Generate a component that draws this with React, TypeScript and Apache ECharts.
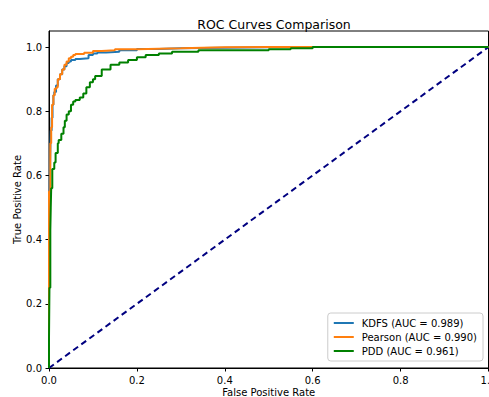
import React, { useEffect, useRef } from "react";
import * as echarts from "echarts";

const seriesNames = ["KDFS", "Pearson", "PDD"];
const aucValues = ["0.989", "0.990", "0.961"];
const seriesColors = ["#1f77b4", "#ff7f0e", "#008000"];

const kdfsRoc: number[][] = [
  [0, 0], [0, 0.35], [0.002, 0.52], [0.003, 0.6], [0.004, 0.68], [0.006, 0.74], [0.008, 0.78],
  [0.01, 0.82], [0.012, 0.85], [0.016, 0.86], [0.02, 0.88], [0.025, 0.9], [0.03, 0.915],
  [0.035, 0.93], [0.04, 0.94], [0.045, 0.95], [0.05, 0.955], [0.06, 0.96], [0.07, 0.963],
  [0.09, 0.965], [0.1, 0.975], [0.11, 0.98], [0.13, 0.983], [0.16, 0.985], [0.2, 0.99],
  [0.25, 0.994], [0.3, 0.996], [0.4, 0.998], [0.5, 0.999], [0.6, 1.0], [1, 1],
];

const pearsonRoc: number[][] = [
  [0, 0], [0, 0.45], [0.003, 0.55], [0.003, 0.62], [0.005, 0.7], [0.007, 0.75], [0.01, 0.82],
  [0.013, 0.85], [0.017, 0.87], [0.02, 0.875], [0.025, 0.9], [0.03, 0.915], [0.035, 0.93],
  [0.04, 0.945], [0.045, 0.955], [0.05, 0.965], [0.055, 0.97], [0.06, 0.975], [0.08, 0.978],
  [0.1, 0.982], [0.12, 0.988], [0.15, 0.99], [0.2, 0.993], [0.25, 0.995], [0.3, 0.996],
  [0.35, 0.998], [0.4, 0.999], [0.5, 1.0], [1, 1],
];

const pddRoc: number[][] = [
  [0, 0], [0.001, 0.09], [0.003, 0.25], [0.004, 0.43], [0.005, 0.5], [0.0075, 0.56],
  [0.0075, 0.6], [0.012, 0.62], [0.015, 0.64], [0.02, 0.67], [0.022, 0.7], [0.028, 0.71],
  [0.033, 0.73], [0.036, 0.75], [0.04, 0.77], [0.045, 0.79], [0.05, 0.8], [0.055, 0.82],
  [0.06, 0.83], [0.07, 0.835], [0.078, 0.843], [0.085, 0.855], [0.093, 0.875], [0.1, 0.89],
  [0.105, 0.9], [0.12, 0.91], [0.14, 0.93], [0.16, 0.945], [0.18, 0.952], [0.2, 0.96],
  [0.22, 0.968], [0.25, 0.975], [0.28, 0.98], [0.34, 0.985], [0.4, 0.99], [0.5, 0.99],
  [0.55, 0.993], [0.6, 0.996], [0.7, 1.0], [1, 1],
];

const diagonal: number[][] = [[0, 0], [1, 1]];
const tickValues = [0, 0.2, 0.4, 0.6, 0.8, 1.0];

const rocData = [kdfsRoc, pearsonRoc, pddRoc];
const FONT = "DejaVu Sans";

export default function App() {
  const ref = useRef<HTMLDivElement>(null);
  useEffect(() => {
    if (!ref.current) return;
    const chart = echarts.init(ref.current, undefined, { renderer: "svg" });
    const labels = seriesNames.map((n, i) => `${n} (AUC = ${aucValues[i]})`);
    const axisCommon = {
      type: "value" as const,
      min: 0,
      interval: 0.2,
      nameLocation: "middle" as const,
      nameMoveOverlap: false,
      nameTextStyle: { fontFamily: FONT, fontSize: 10, color: "#000" },
      axisLine: { show: true, lineStyle: { color: "#000", width: 1 } },
      axisTick: { show: true, length: 3.5, lineStyle: { color: "#000" }, customValues: tickValues },
      axisLabel: {
        fontFamily: FONT,
        fontSize: 10,
        color: "#000",
        margin: 7,
        customValues: tickValues,
        formatter: (v: number) => v.toFixed(1),
      },
      splitLine: { show: false },
    };
    chart.setOption({
      animation: false,
      backgroundColor: "#fff",
      title: {
        text: "ROC Curves Comparison",
        left: 269,
        textAlign: "center",
        top: 13,
        textStyle: { fontFamily: FONT, fontSize: 12.5, fontWeight: "normal", color: "#000" },
      },
      grid: {
        left: 49,
        right: 0.5,
        top: 31,
        bottom: 29,
        outerBoundsMode: "none",
        containLabel: false,
        show: true,
        borderColor: "#000",
        borderWidth: 1,
        backgroundColor: "transparent",
      },
      xAxis: { ...axisCommon, max: 1, name: "False Positive Rate", nameGap: 19 },
      yAxis: { ...axisCommon, max: 1.05, name: "True Positive Rate", nameGap: 27 },
      legend: {
        orient: "vertical",
        right: 6,
        bottom: 36,
        data: labels,
        icon: "rect",
        itemWidth: 20,
        itemHeight: 2,
        itemGap: 4,
        padding: [5, 6, 5, 6],
        borderColor: "#ccc",
        borderWidth: 1,
        borderRadius: 3,
        backgroundColor: "rgba(255,255,255,0.8)",
        textStyle: { fontFamily: FONT, fontSize: 10, color: "#000", padding: [0, 0, 0, 3] },
      },
      series: [
        ...rocData.map((d, i) => ({
          name: labels[i],
          type: "line",
          data: d,
          step: "start",
          showSymbol: false,
          symbol: "none",
          color: seriesColors[i],
          lineStyle: { color: seriesColors[i], width: 2 },
          z: 3 + i,
        })),
        {
          name: "diagonal",
          type: "line",
          data: diagonal,
          showSymbol: false,
          symbol: "none",
          lineStyle: { color: "#000080", width: 2, type: [6, 4] },
          z: 2,
        },
      ],
    });
    return () => chart.dispose();
  }, []);
  return <div ref={ref} style={{ width: 489, height: 397, position: "absolute", left: 0, top: 0 }} />;
}
